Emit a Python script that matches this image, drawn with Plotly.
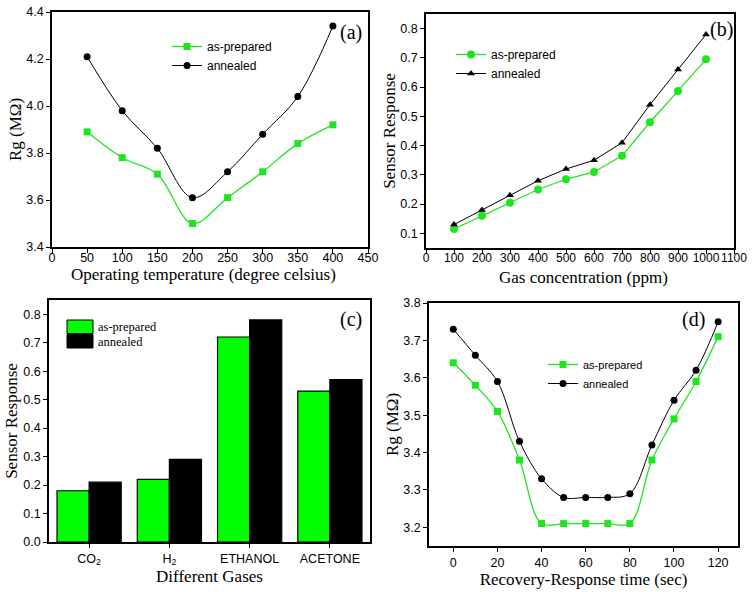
import plotly.graph_objects as go

# ---------- data ----------
temp = [50, 100, 150, 200, 250, 300, 350, 400]
rg_temp_prep = [3.89, 3.78, 3.71, 3.50, 3.61, 3.72, 3.84, 3.92]
rg_temp_ann = [4.21, 3.98, 3.82, 3.61, 3.72, 3.88, 4.04, 4.34]

conc = [100, 200, 300, 400, 500, 600, 700, 800, 900, 1000]
resp_conc_prep = [0.115, 0.16, 0.205, 0.25, 0.285, 0.31, 0.365, 0.48, 0.587, 0.695]
resp_conc_ann = [0.13, 0.18, 0.23, 0.28, 0.32, 0.35, 0.41, 0.54, 0.66, 0.78]

gases = ["CO<sub>2</sub>", "H<sub>2</sub>", "ETHANOL", "ACETONE"]
resp_gas_prep = [0.18, 0.22, 0.72, 0.53]
resp_gas_ann = [0.21, 0.29, 0.78, 0.57]

rtime = [0, 10, 20, 30, 40, 50, 60, 70, 80, 90, 100, 110, 120]
rg_time_prep = [3.64, 3.58, 3.51, 3.38, 3.21, 3.21, 3.21, 3.21, 3.21, 3.38, 3.49, 3.59, 3.71]
rg_time_ann = [3.73, 3.66, 3.59, 3.43, 3.33, 3.28, 3.28, 3.28, 3.29, 3.42, 3.54, 3.62, 3.75]

GREEN = "#1ee61e"
BAR_GREEN = "#00ff00"
SANS = "Arial, Liberation Sans, sans-serif"
SERIF = "Times New Roman, Liberation Serif, serif"
W, H = 753, 592

def px_x(p):
    return p / W

def px_y(p):
    return 1 - p / H

fig = go.Figure()

# (a)
fig.add_trace(go.Scatter(x=temp, y=rg_temp_prep, mode="lines+markers", name="as-prepared",
                         line=dict(color=GREEN, width=1.3, shape="spline"),
                         marker=dict(symbol="square", size=7, color=GREEN),
                         xaxis="x", yaxis="y", legend="legend"))
fig.add_trace(go.Scatter(x=temp, y=rg_temp_ann, mode="lines+markers", name="annealed",
                         line=dict(color="black", width=1, shape="spline"),
                         marker=dict(symbol="circle", size=7, color="black"),
                         xaxis="x", yaxis="y", legend="legend"))
# (b)
fig.add_trace(go.Scatter(x=conc, y=resp_conc_prep, mode="lines+markers", name="as-prepared",
                         line=dict(color=GREEN, width=1.3),
                         marker=dict(symbol="circle", size=8, color=GREEN),
                         xaxis="x2", yaxis="y2", legend="legend2"))
fig.add_trace(go.Scatter(x=conc, y=resp_conc_ann, mode="lines+markers", name="annealed",
                         line=dict(color="black", width=1),
                         marker=dict(symbol="triangle-up", size=7, color="black"),
                         xaxis="x2", yaxis="y2", legend="legend2"))
# (c)
fig.add_trace(go.Bar(x=gases, y=resp_gas_prep, name="as-prepared", marker=dict(color=BAR_GREEN, line=dict(color="black", width=1.2)),
                     xaxis="x3", yaxis="y3", showlegend=False))
fig.add_trace(go.Bar(x=gases, y=resp_gas_ann, name="annealed", marker=dict(color="black", line=dict(color="black", width=1.2)),
                     xaxis="x3", yaxis="y3", showlegend=False))
# (d)
fig.add_trace(go.Scatter(x=rtime, y=rg_time_prep, mode="lines+markers", name="as-prepared",
                         line=dict(color=GREEN, width=1.3, shape="spline"),
                         marker=dict(symbol="square", size=7, color=GREEN),
                         xaxis="x4", yaxis="y4", legend="legend4"))
fig.add_trace(go.Scatter(x=rtime, y=rg_time_ann, mode="lines+markers", name="annealed",
                         line=dict(color="black", width=1, shape="spline"),
                         marker=dict(symbol="circle", size=7, color="black"),
                         xaxis="x4", yaxis="y4", legend="legend4"))

def ax(domain, anchor, rng, dtick=None, title=None, standoff=0, **kw):
    d = dict(domain=domain, anchor=anchor, range=rng, showline=True, linecolor="black", linewidth=1.6,
             mirror=True, ticks="outside", ticklen=4, tickwidth=1.3, tickcolor="black",
             showgrid=False, zeroline=False, automargin=False, tickangle=0,
             tickfont=dict(family=SANS, size=12.5, color="black"),
             title=dict(text=title, font=dict(family=SERIF, size=17, color="black"), standoff=standoff))
    if dtick is not None:
        d["dtick"] = dtick
    d.update(kw)
    return d

def leg(x, y, size):
    return dict(font=dict(family=SANS, size=size, color="black"), bgcolor="rgba(0,0,0,0)",
                xanchor="left", yanchor="top", itemwidth=30, tracegroupgap=0, x=px_x(x), y=px_y(y))

fig.update_layout(
    width=W, height=H, margin=dict(l=0, r=0, t=0, b=0, autoexpand=False),
    paper_bgcolor="white", plot_bgcolor="white",
    barmode="group", bargap=0.2, bargroupgap=0,
    xaxis=ax([px_x(52), px_x(368)], "y", [0, 450], 50, None, tickformat="d", ticklabelstandoff=-6),
    yaxis=ax([px_y(247), px_y(12)], "x", [3.4, 4.4], 0.2, "Rg (MΩ)", tickformat=".1f"),
    xaxis2=ax([px_x(426), px_x(734)], "y2", [0, 1100], 100, None, ticklabelstandoff=-6,
              tickfont=dict(family=SANS, size=12, color="black")),
    yaxis2=ax([px_y(248), px_y(14)], "x2", [0.05, 0.85], 0.1, "Sensor Response", tickformat=".1f"),
    xaxis3=ax([px_x(49), px_x(370)], "y3", [-0.5, 3.5], None, "Different Gases"),
    yaxis3=ax([px_y(542), px_y(300)], "x3", [0, 0.85], 0.1, "Sensor Response", tickformat=".1f", standoff=1),
    xaxis4=ax([px_x(429), px_x(738)], "y4", [-11, 129], 20, "Recovery-Response time (sec)"),
    yaxis4=ax([px_y(546), px_y(303)], "x4", [3.15, 3.8], 0.1, "Rg (MΩ)", tickformat=".1f"),
    legend=leg(167, 32, 12),
    legend2=leg(451, 40, 12),
    legend4=leg(543, 350, 11),
)

# x-axis titles of panels (a) and (b), set tight under their tick labels
for txt, x, y in [("Operating temperature (degree celsius)", 203, 275), ("Gas concentration (ppm)", 583, 277)]:
    fig.add_annotation(text=txt, x=px_x(x), y=px_y(y), xref="paper", yref="paper", showarrow=False,
                       xanchor="center", yanchor="middle", font=dict(family=SERIF, size=17, color="black"))

# panel labels
for txt, x, y in [("(a)", 351, 33), ("(b)", 721, 29), ("(c)", 351, 319), ("(d)", 693, 319)]:
    fig.add_annotation(text=txt, x=px_x(x), y=px_y(y), xref="paper", yref="paper", showarrow=False,
                       xanchor="center", yanchor="middle", font=dict(family=SERIF, size=20, color="black"))

# legend for bar panel (c)
for i, (name, col) in enumerate([("as-prepared", BAR_GREEN), ("annealed", "black")]):
    y0 = 320 + i * 14.5
    fig.add_shape(type="rect", xref="paper", yref="paper", x0=px_x(67), x1=px_x(93), y0=px_y(y0 + 13.5), y1=px_y(y0),
                  fillcolor=col, line=dict(color="black", width=1))
    fig.add_annotation(text=name, x=px_x(96), y=px_y(y0 + 7), xref="paper", yref="paper", showarrow=False,
                       xanchor="left", yanchor="middle", font=dict(family=SERIF, size=12.5, color="black"))

fig.write_html("out.html", config={"displayModeBar": False},
               post_script="document.body.style.margin='0';document.body.style.overflow='hidden';")
